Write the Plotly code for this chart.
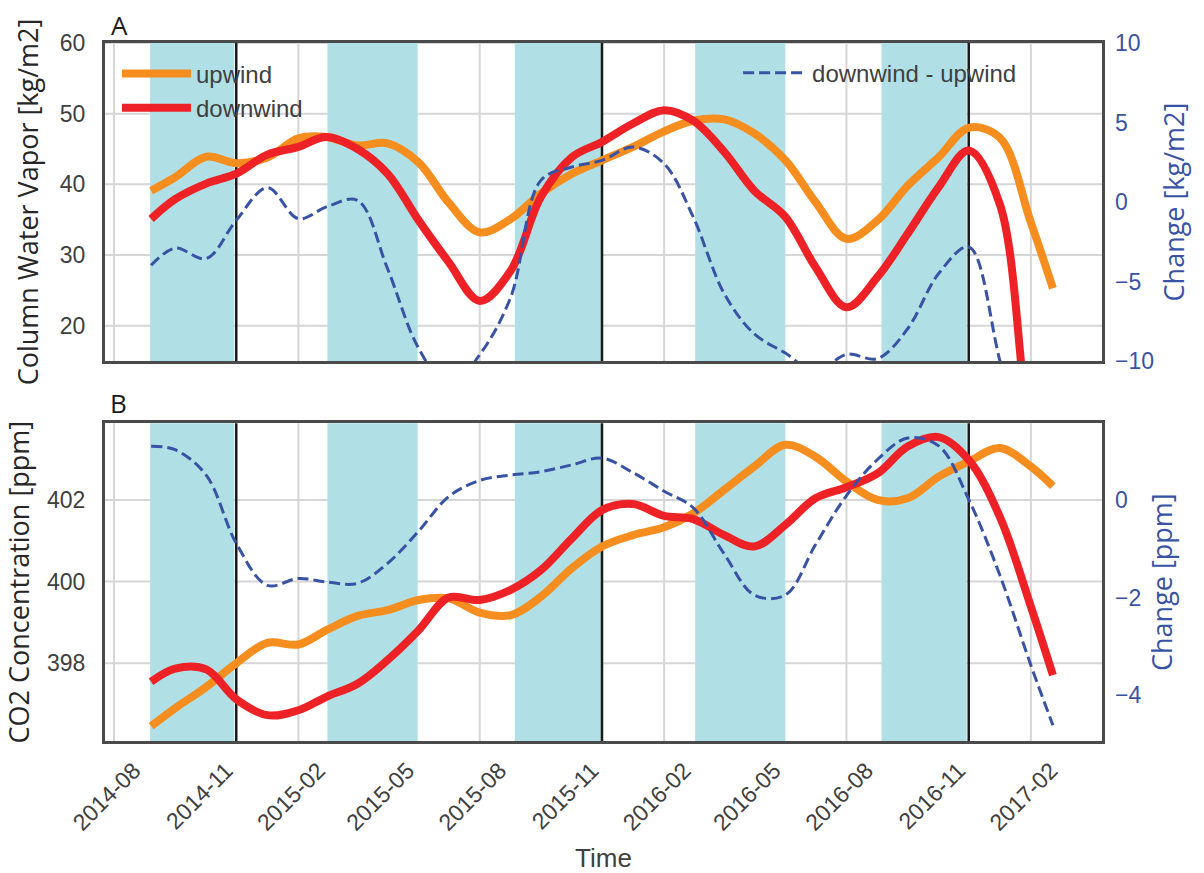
import plotly.graph_objects as go

# Monthly sample dates shared by every series (first and last are the record ends)
dates = [
    "2014-09-07", "2014-10-01", "2014-11-01", "2014-12-01", "2015-01-01", "2015-02-01",
    "2015-03-01", "2015-04-01", "2015-05-01", "2015-06-01", "2015-07-01", "2015-08-01",
    "2015-09-01", "2015-10-01", "2015-11-01", "2015-12-01", "2016-01-01", "2016-02-01",
    "2016-03-01", "2016-04-01", "2016-05-01", "2016-06-01", "2016-07-01", "2016-08-01",
    "2016-09-01", "2016-10-01", "2016-11-01", "2016-12-01", "2017-01-01", "2017-02-01",
    "2017-02-23",
]

# Panel A: column water vapor [kg/m2]
cwv_upwind = [
    39.1, 41.0, 43.9, 43.0, 43.8, 46.5, 46.7, 45.5, 45.8, 43.1, 37.4, 33.2,
    35.1, 38.7, 41.5, 43.4, 45.3, 47.5, 49.0, 49.2, 47.2, 43.4, 37.5, 32.3,
    34.9, 39.8, 43.85, 48.0, 46.6, 34.6, 25.3,
]
cwv_downwind = [
    35.1, 37.9, 40.1, 41.5, 44.2, 45.3, 46.7, 45.0, 41.5, 34.9, 29.0, 23.5,
    27.8, 38.2, 43.85, 46.0, 48.6, 50.5, 49.0, 44.6, 39.1, 35.4, 28.3, 22.6,
    26.9, 33.0, 39.6, 44.8, 37.2, 4.0, -6.0,
]
# downwind - upwind [kg/m2]
cwv_change = [
    -3.98, -2.9, -3.56, -1.15, 0.9, -1.05, -0.31, 0.1, -4.2, -9.2, -11.6, -9.6,
    -5.97, 1.36, 2.2, 2.62, 3.46, 2.41, -0.94, -5.77, -8.3, -9.5, -10.7, -9.58,
    -9.85, -7.97, -4.5, -2.83, -9.96, -18.0, -22.0,
]

# Panel B: CO2 concentration [ppm]
co2_upwind = [
    396.46, 396.9, 397.42, 398.0, 398.5, 398.46, 398.81, 399.16, 399.3, 399.55, 399.59, 399.24,
    399.18, 399.63, 400.33, 400.86, 401.14, 401.33, 401.67, 402.25, 402.82, 403.35, 403.06, 402.45,
    402.0, 402.04, 402.57, 402.94, 403.27, 402.82, 402.34,
]
co2_downwind = [
    397.55, 397.87, 397.85, 397.12, 396.73, 396.85, 397.18, 397.5, 398.08, 398.81, 399.61, 399.55,
    399.8, 400.28, 401.06, 401.75, 401.9, 401.61, 401.53, 401.14, 400.86, 401.39, 402.04, 402.31,
    402.65, 403.31, 403.54, 402.98, 401.59, 399.39, 397.71,
]
# downwind - upwind [ppm]
co2_change = [
    1.10, 1.03, 0.51, -0.89, -1.75, -1.61, -1.68, -1.71, -1.30, -0.64, 0.07, 0.40,
    0.51, 0.58, 0.72, 0.86, 0.56, 0.18, -0.16, -1.11, -1.95, -1.95, -0.92, 0.09,
    0.83, 1.27, 1.11, 0.01, -1.54, -3.39, -4.62,
]

# Tick values of the left axes (also where the horizontal grid sits)
cwv_ticks = [20, 30, 40, 50, 60]
co2_ticks = [398, 400, 402]
cwv_change_ticks = [-10, -5, 0, 5, 10]
co2_change_ticks = [-4, -2, 0]

# Shaded seasons (start, end), year boundaries and vertical grid dates
season_start = ["2014-09-06", "2015-03-02", "2015-09-05", "2016-03-03", "2016-09-05"]
season_end = ["2014-11-29", "2015-05-31", "2015-11-30", "2016-06-01", "2016-11-29"]
year_marks = ["2014-12-01", "2015-12-01", "2016-12-01"]
grid_dates = ["2014-08-01", "2015-02-01", "2015-08-01", "2016-02-01", "2016-08-01", "2017-02-01"]

x_range = ["2014-07-23", "2017-04-13"]

ORANGE = "#F68D1F"
RED = "#EE2226"
BLUE = "#3953A4"
BAND = "#B0E0E6"
FRAME = "#4A4A4A"
GRID = "#D6D6D6"
TEXT = "#404040"
SANS = "Liberation Sans, Arial, sans-serif"
OPEN = "Open Sans, sans-serif"
TICK_FONT = dict(family=SANS, size=23, color=TEXT)
TITLE_FONT = dict(family=OPEN, size=27, color="#262626")
BLUE_TICK = dict(family=SANS, size=23, color=BLUE)
BLUE_TITLE = dict(family=OPEN, size=27, color=BLUE)

fig = go.Figure()

# Panel A traces
fig.add_trace(go.Scatter(x=dates, y=cwv_upwind, name="upwind", mode="lines",
                         line=dict(color=ORANGE, width=8, shape="spline"),
                         xaxis="x", yaxis="y", legend="legend"))
fig.add_trace(go.Scatter(x=dates, y=cwv_downwind, name="downwind", mode="lines",
                         line=dict(color=RED, width=8, shape="spline"),
                         xaxis="x", yaxis="y", legend="legend"))
fig.add_trace(go.Scatter(x=dates, y=cwv_change, name="downwind - upwind", mode="lines",
                         line=dict(color=BLUE, width=3, shape="spline", dash="11px,5px"),
                         xaxis="x", yaxis="y2", legend="legend2"))

# Panel B traces
fig.add_trace(go.Scatter(x=dates, y=co2_upwind, name="upwind", mode="lines",
                         line=dict(color=ORANGE, width=8, shape="spline"),
                         xaxis="x2", yaxis="y3", showlegend=False))
fig.add_trace(go.Scatter(x=dates, y=co2_downwind, name="downwind", mode="lines",
                         line=dict(color=RED, width=8, shape="spline"),
                         xaxis="x2", yaxis="y3", showlegend=False))
fig.add_trace(go.Scatter(x=dates, y=co2_change, name="downwind - upwind", mode="lines",
                         line=dict(color=BLUE, width=3, shape="spline", dash="11px,5px"),
                         xaxis="x2", yaxis="y4", showlegend=False))

# Grid, seasonal shading and year marks, all under the data lines
# (grid first so the shading covers it)
shapes = []
for xref, yaxis, ticks in (("x", "y", cwv_ticks), ("x2", "y3", co2_ticks)):
    ydom = yaxis + " domain"
    for v in ticks:
        shapes.append(dict(type="line", xref=xref + " domain", yref=yaxis, x0=0, x1=1,
                           y0=v, y1=v, line=dict(color=GRID, width=2), layer="below"))
    for d in grid_dates:
        shapes.append(dict(type="line", xref=xref, yref=ydom, x0=d, x1=d, y0=0, y1=1,
                           line=dict(color=GRID, width=2), layer="below"))
    for s, e in zip(season_start, season_end):
        shapes.append(dict(type="rect", xref=xref, yref=ydom, x0=s, x1=e, y0=0, y1=1,
                           fillcolor=BAND, line=dict(width=0), layer="below"))
    for d in year_marks:
        shapes.append(dict(type="line", xref=xref, yref=ydom, x0=d, x1=d, y0=0, y1=1,
                           line=dict(color="#1A1A1A", width=2.5), layer="below"))

frame = dict(showline=True, mirror=True, linecolor=FRAME, linewidth=3, zeroline=False,
             automargin=False)

fig.update_layout(
    width=1204, height=873,
    margin=dict(l=105, r=102, t=43, b=132),
    plot_bgcolor="white", paper_bgcolor="white",
    shapes=shapes,
    xaxis=dict(domain=[0, 1], anchor="y", range=x_range, type="date",
               showticklabels=False, showgrid=False, ticks="", **frame),
    xaxis2=dict(domain=[0, 1], anchor="y3", range=x_range, type="date", matches="x",
                tick0="2014-08-01", dtick="M3", tickformat="%Y-%m", tickangle=-45,
                tickfont=TICK_FONT, showgrid=False, ticks="",
                ticklabelshift=20, ticklabelstandoff=4,
                title=dict(text="Time", font=dict(family=SANS, size=26, color=TEXT),
                           standoff=16),
                **frame),
    yaxis=dict(domain=[0.5444, 1], anchor="x", range=[15, 60], tickvals=cwv_ticks,
               tickfont=TICK_FONT, showgrid=False, ticks="", ticklabelstandoff=12,
               title=dict(text="Column Water Vapor [kg/m2]", font=TITLE_FONT, standoff=14),
               **frame),
    yaxis2=dict(overlaying="y", side="right", anchor="x", range=[-10, 10],
                tickvals=cwv_change_ticks, tickfont=BLUE_TICK, showgrid=False,
                zeroline=False, showline=False, ticks="", ticklabelstandoff=12,
                automargin=False,
                title=dict(text="Change [kg/m2]", font=BLUE_TITLE, standoff=12)),
    yaxis3=dict(domain=[0, 0.4552], anchor="x2", range=[396.097, 403.878],
                tickvals=co2_ticks, tickfont=TICK_FONT, showgrid=False, ticks="",
                ticklabelstandoff=12,
                title=dict(text="CO2 Concentration [ppm]", font=TITLE_FONT, standoff=14),
                **frame),
    yaxis4=dict(overlaying="y3", side="right", anchor="x2", range=[-4.944, 1.573],
                tickvals=co2_change_ticks, tickfont=BLUE_TICK, showgrid=False,
                zeroline=False, showline=False, ticks="", ticklabelstandoff=12,
                automargin=False,
                title=dict(text="Change [ppm]", font=BLUE_TITLE, standoff=12)),
    legend=dict(x=0.012, y=0.988, xanchor="left", yanchor="top", bgcolor="rgba(0,0,0,0)",
                font=dict(family=SANS, size=24, color=TEXT),
                itemwidth=69, tracegroupgap=0),
    legend2=dict(x=0.635, y=0.989, xanchor="left", yanchor="top", bgcolor="rgba(0,0,0,0)",
                 font=dict(family=SANS, size=24, color=TEXT),
                 itemwidth=64),
    annotations=[
        dict(text="A", xref="paper", yref="paper", x=0.015, y=1.0258, xanchor="center",
             yanchor="middle", showarrow=False, font=dict(family=OPEN, size=26, color="#1A1A1A")),
        dict(text="B", xref="paper", yref="paper", x=0.014, y=0.4842, xanchor="center",
             yanchor="middle", showarrow=False, font=dict(family=OPEN, size=26, color="#1A1A1A")),
    ],
)

fig.write_html("out.html")
